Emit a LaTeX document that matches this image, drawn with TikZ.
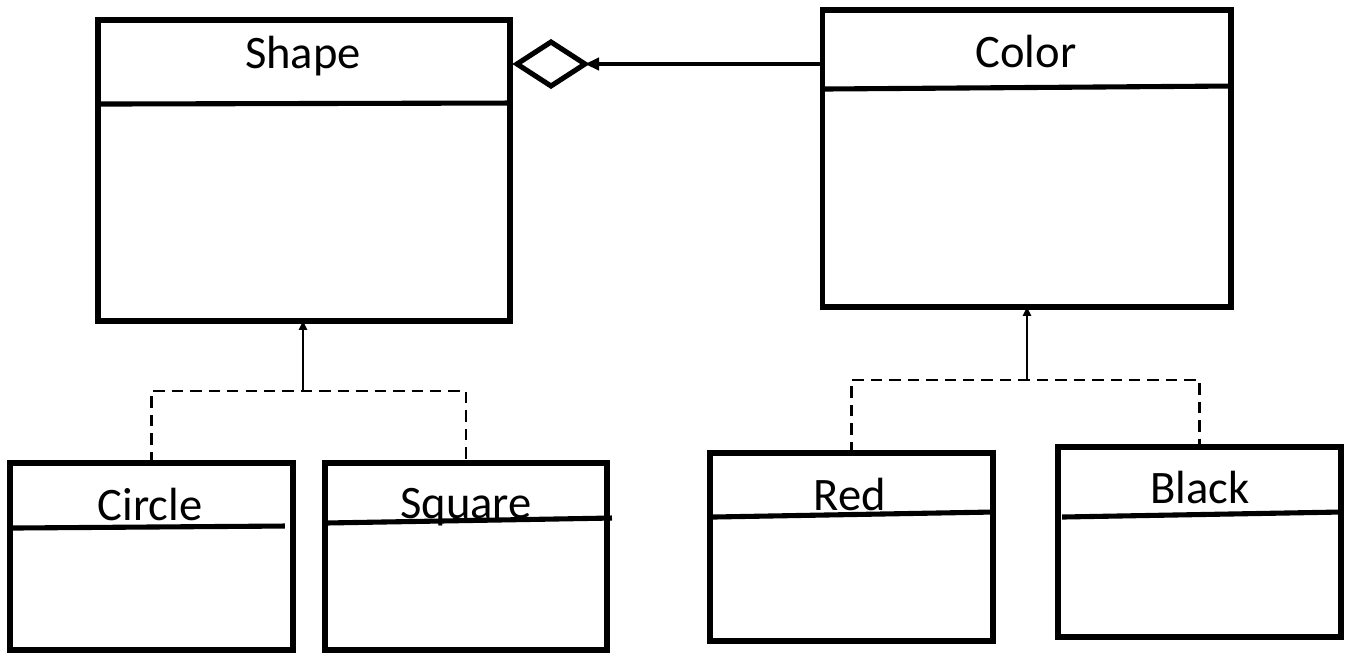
\documentclass[tikz,border=0pt]{standalone}
\usepackage{fontspec}
\setmainfont{Carlito}
\usetikzlibrary{
  arrows.meta,
  positioning,
  calc,
  shapes.geometric
}

\begin{document}
\begin{tikzpicture}[x=0.02cm, y=-0.02cm,
    classbox/.style={draw, line width=2.9pt, inner sep=0pt, outer sep=0pt},
    classname/.style={anchor=base, inner sep=0pt, font=\fontsize{26.5}{30}\selectfont},
    divider/.style={line width=2.9pt},
    realize/.style={line width=1.5pt, dash pattern=on 6.5pt off 4pt},
    inherit/.style={line width=1.5pt, -{Triangle[length=5pt,width=4.5pt]}},
    assoc/.style={line width=2.6pt, -{Triangle[length=8pt,width=7pt]}}]
    \useasboundingbox (0,0) rectangle (1351,653);

    % Abstraction: Shape
    \node[classbox, minimum width=8.24cm, minimum height=6.02cm] (shape) at (304,170.5) {};
    \node[classname] (shape-title) at (303,68) {Shape};
    \draw[divider] ($(shape.north west)+(0,84)$) -- ($(shape.north east)+(0,83)$);

    % Implementor: Color
    \node[classbox, minimum width=8.18cm, minimum height=5.94cm] (color) at (1026.5,158.5) {};
    \node[classname] (color-title) at (1026,67) {Color};
    \draw[divider] ($(color.north west)+(0,79)$) -- ($(color.north east)+(0,76)$);

    % Aggregation (the bridge)
    \node[draw, diamond, line width=2.9pt, inner sep=0pt, outer sep=0pt,
          minimum width=1.36cm, minimum height=0.88cm] (agg) at (551,64) {};
    \draw[assoc] (agg.east -| color.west) -- (agg.east);

    % Refined abstractions
    \node[classbox, minimum width=5.66cm, minimum height=3.74cm] (circle) at (151.5,556.5) {};
    \node[classname] (circle-title) at (150,520) {Circle};
    \draw[divider] ($(circle.north west)+(3,65)$) -- ($(circle.north east)+(-8,63)$);

    \node[classbox, minimum width=5.64cm, minimum height=3.74cm] (square) at (466,556.5) {};
    \node[classname] (square-title) at (466,518) {Square};
    \draw[divider] ($(square.north west)+(0,60)$) -- ($(square.north east)+(5,55)$);

    % Concrete implementors
    \node[classbox, minimum width=5.66cm, minimum height=3.76cm] (red) at (851.5,547) {};
    \node[classname] (red-title) at (850,510) {Red};
    \draw[divider] ($(red.north west)+(3,64)$) -- ($(red.north east)+(0,59)$);

    \node[classbox, minimum width=5.66cm, minimum height=3.8cm] (black) at (1199.5,542) {};
    \node[classname] (black-title) at (1200,503) {Black};
    \draw[divider] ($(black.north west)+(4,70)$) -- ($(black.north east)+(0,65)$);

    % Inheritance lines
    \coordinate (shapejoin) at (303,391);
    \draw[inherit] (shapejoin) -- (shapejoin |- shape.south);
    \draw[realize] (circle.north) |- (shapejoin) -| (square.north);

    \coordinate (colorjoin) at (1027,380);
    \draw[inherit] (colorjoin) -- (colorjoin |- color.south);
    \draw[realize] (red.north) |- (colorjoin) -| (black.north);
\end{tikzpicture}
\end{document}
